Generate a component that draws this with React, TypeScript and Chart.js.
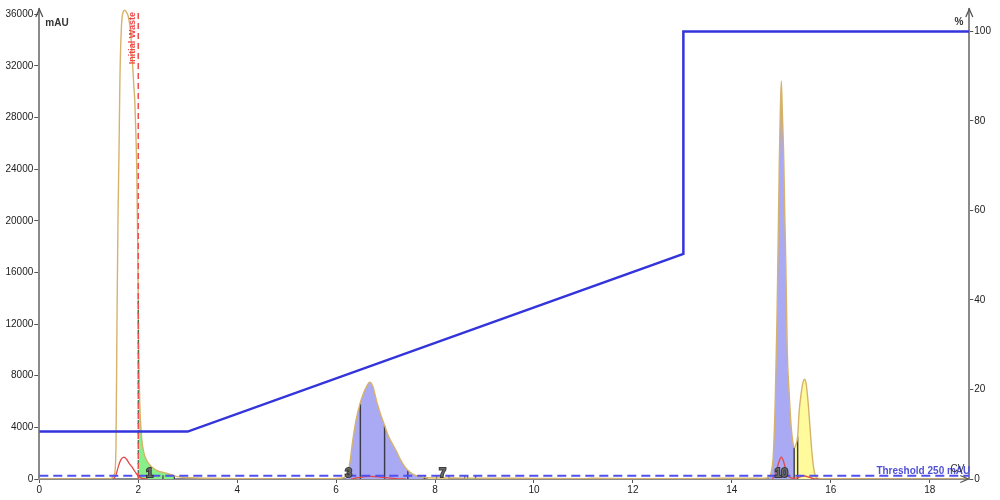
import React, { useEffect, useRef } from 'react';
import { Chart, registerables } from 'chart.js';

Chart.register(...registerables);

// ---- data ----
const traceCV = [
  0, 1.4, 1.46, 1.52, 1.55, 1.57, 1.59, 1.61, 1.63, 1.66, 1.7, 1.73, 1.77, 1.8, 1.85, 1.88, 1.91, 1.93, 1.95, 1.97,
  1.99, 2.01, 2.03, 2.06, 2.09, 2.13, 2.17, 2.23, 2.3, 2.4, 2.57, 2.75, 2.9, 3.2, 3.7, 4.0, 5.0, 5.9, 6.1, 6.2,
  6.25, 6.28, 6.33, 6.4, 6.48, 6.55, 6.62, 6.68, 6.74, 6.82, 6.9, 6.98, 7.06, 7.14, 7.22, 7.3, 7.38, 7.45, 7.55, 7.65,
  7.75, 7.85, 8.0, 8.3, 8.6, 8.8, 9.0, 10.0, 11.0, 11.2, 12.0, 13.0, 13.8, 14.4, 14.6, 14.75, 14.8, 14.84, 14.88, 14.91,
  14.93, 14.96, 14.98, 15.0, 15.02, 15.05, 15.07, 15.09, 15.12, 15.16, 15.2, 15.24, 15.26, 15.29, 15.33, 15.36, 15.4, 15.44, 15.47, 15.5,
  15.54, 15.58, 15.62, 15.66, 15.7, 15.75, 16.0, 18.8,
];
const traceMAU = [
  0, 10, 60, 400, 2500, 12000, 20000, 25000, 31000, 35000, 36200, 36300, 36100, 35800, 34500, 32500, 30500, 29300, 27000, 24000,
  18000, 10000, 6000, 3600, 2500, 1800, 1450, 1100, 850, 620, 450, 220, 130, 80, 50, 20, 10, 20, 60, 250,
  700, 1300, 2800, 4500, 5800, 6600, 7200, 7500, 7200, 6000, 5000, 4150, 3300, 2700, 2150, 1500, 1000, 680, 380, 230,
  150, 100, 90, 80, 70, 65, 60, 50, 30, 60, 20, 20, 60, 60, 50, 150, 600, 2000, 6600, 12000,
  16900, 24700, 28500, 30800, 28500, 24700, 20500, 16900, 10000, 6600, 4000, 2700, 2430, 2600, 3300, 5200, 6600, 7500, 7730, 7400,
  6000, 4000, 2000, 700, 150, 50, 20, 10,
];

const redCV = [
  1.5, 1.55, 1.6, 1.65, 1.71, 1.76, 1.82, 1.87, 1.93, 2.0, 2.08, 2.2, 2.21,
  6.3, 6.45, 6.6, 6.7, 6.85, 7.0, 7.2, 7.4, 7.41,
  14.82, 14.88, 14.95, 15.0, 15.05, 15.1, 15.16, 15.25, 15.35, 15.45, 15.55, 15.65, 15.75,
];
const redMAU = [
  0, 300, 1000, 1500, 1700, 1550, 1200, 950, 600, 230, 40, 0, null,
  0, 100, 180, 200, 170, 100, 30, 0, null,
  0, 400, 1300, 1700, 1300, 600, 150, 50, 120, 250, 150, 30, 0,
];

const gradientCV = [0, 3.0, 13.02, 13.02, 18.8];
const gradientPct = [10.6, 10.6, 50.3, 100, 100];

const thresholdMAU = 250;
const wasteCV = 2.0;
const wasteLabel = 'Initial Waste';
const fracMarkCV = 2.0;
const fracMarkMAU = 13800;

const fracStartCV = [2.01, 6.2, 7.85, 8.6, 14.75, 15.26];
const fracEndCV = [2.75, 7.75, 8.3, 8.8, 15.26, 15.75];
const fracKind = ['green', 'blue', 'yellow', 'green', 'blue', 'yellow'];

const dividerCV = [6.49, 6.98, 7.45, 15.26, 15.33];
const dividerMAU = [5800, 4150, 680, 2430, 3300];

const tickMarkCV = [2.5, 2.73, 7.79, 8.03, 8.28, 8.6, 8.66, 8.82];
const tickMarkMAU = 300;

const fracLabelCV = [2.23, 6.25, 8.15, 15.0];
const fracLabelText = ['1', '3', '7', '10'];

const xTickValues = [0, 2, 4, 6, 8, 10, 12, 14, 16, 18];
const yTickValues = [0, 4000, 8000, 12000, 16000, 20000, 24000, 28000, 32000, 36000];
const pctTickValues = [0, 20, 40, 60, 80, 100];

// ---- styles ----
const FONT = "'Liberation Sans', Arial, sans-serif";
const fracColors: Record<string, string> = {
  green: '#88f088',
  blue: '#a9a9f4',
  yellow: '#fffa9c',
};

export default function App() {
  const ref = useRef<HTMLCanvasElement>(null);

  useEffect(() => {
    if (!ref.current) return;
    const zip = (xs: number[], ys: (number | null)[]) => xs.map((x, i) => ({ x, y: ys[i] }));
    const trace = zip(traceCV, traceMAU);
    const straight = { tension: 0, cubicInterpolationMode: 'default' };

    const datasets: any[] = [];
    // gradient (top)
    datasets.push({
      data: zip(gradientCV, gradientPct),
      yAxisID: 'y2',
      borderColor: '#3434dc',
      borderWidth: 2.5,
      pointRadius: 0,
      fill: false,
      order: 0,
      ...straight,
    });
    // initial waste
    datasets.push({
      data: [{ x: wasteCV, y: 0 }, { x: wasteCV, y: 36400 }],
      yAxisID: 'y',
      borderColor: '#f05050',
      borderWidth: 1.5,
      borderDash: [6, 4],
      pointRadius: 0,
      fill: false,
      order: 1,
      ...straight,
    });
    datasets.push({
      data: [{ x: fracMarkCV, y: 0 }, { x: fracMarkCV, y: fracMarkMAU }],
      yAxisID: 'y',
      borderColor: '#3b5e3b',
      borderWidth: 1.2,
      borderDash: [4, 6],
      borderDashOffset: 5,
      pointRadius: 0,
      fill: false,
      order: 1,
      ...straight,
    });
    // threshold
    datasets.push({
      data: [{ x: 0, y: thresholdMAU }, { x: 18.8, y: thresholdMAU }],
      yAxisID: 'y',
      borderColor: '#5050f0',
      borderWidth: 2,
      borderDash: [9, 5],
      pointRadius: 0,
      fill: false,
      order: 2,
      ...straight,
    });
    // red trace
    datasets.push({
      data: zip(redCV, redMAU),
      yAxisID: 'y',
      borderColor: '#e44848',
      borderWidth: 1.3,
      pointRadius: 0,
      fill: false,
      spanGaps: false,
      order: 3,
    });
    // main trace
    datasets.push({
      data: trace,
      yAxisID: 'y',
      borderColor: '#d6b36c',
      borderWidth: 1.4,
      pointRadius: 0,
      fill: false,
      order: 4,
    });
    // dividers
    dividerCV.forEach((cv, i) => {
      datasets.push({
        data: [{ x: cv, y: 0 }, { x: cv, y: dividerMAU[i] }],
        yAxisID: 'y',
        borderColor: '#3a3a4a',
        borderWidth: 1.4,
        pointRadius: 0,
        fill: false,
        order: 5,
        ...straight,
      });
    });
    tickMarkCV.forEach((cv) => {
      datasets.push({
        data: [{ x: cv, y: 0 }, { x: cv, y: tickMarkMAU }],
        yAxisID: 'y',
        borderColor: '#3a3a4a',
        borderWidth: 1.2,
        pointRadius: 0,
        fill: false,
        order: 5,
        ...straight,
      });
    });
    // fraction fills
    fracStartCV.forEach((s, i) => {
      const e = fracEndCV[i];
      datasets.push({
        data: trace.filter((p) => p.x >= s - 1e-9 && p.x <= e + 1e-9),
        yAxisID: 'y',
        borderWidth: 0,
        borderColor: 'rgba(0,0,0,0)',
        backgroundColor: fracColors[fracKind[i]],
        pointRadius: 0,
        fill: 'origin',
        order: 10,
      });
    });

    const decor = {
      id: 'decor',
      afterDraw(chart: any) {
        const { ctx, chartArea, scales } = chart;
        const { left, right, top, bottom } = chartArea;
        ctx.save();
        // arrows
        ctx.strokeStyle = '#555';
        ctx.lineWidth = 1.3;
        const arrowUp = (x: number) => {
          ctx.beginPath();
          ctx.moveTo(x - 3.5, top + 8);
          ctx.lineTo(x, top);
          ctx.lineTo(x + 3.5, top + 8);
          ctx.stroke();
        };
        arrowUp(left);
        arrowUp(right);
        ctx.beginPath();
        ctx.moveTo(right - 9, bottom - 3.5);
        ctx.lineTo(right - 1, bottom);
        ctx.lineTo(right - 9, bottom + 3.5);
        ctx.stroke();

        // axis titles
        ctx.fillStyle = '#333';
        ctx.font = `bold 10px ${FONT}`;
        ctx.textBaseline = 'alphabetic';
        ctx.textAlign = 'left';
        ctx.fillText('mAU', left + 6, 26);
        ctx.textAlign = 'right';
        ctx.fillText('%', right - 6, 25);

        // threshold label
        const ty = scales.y.getPixelForValue(thresholdMAU);
        ctx.fillStyle = '#5151d6';
        ctx.font = `bold 10px ${FONT}`;
        ctx.textAlign = 'right';
        ctx.fillText('Threshold 250 mAU', right + 1, ty - 2);
        ctx.fillStyle = '#333';
        ctx.font = `10px ${FONT}`;
        ctx.fillText('CV', right - 5, bottom - 7);

        // initial waste label
        const wx = scales.x.getPixelForValue(wasteCV);
        ctx.save();
        ctx.translate(wx - 3, top + 3);
        ctx.rotate(-Math.PI / 2);
        ctx.fillStyle = '#ee4a4a';
        ctx.font = `bold 9px ${FONT}`;
        ctx.textAlign = 'right';
        ctx.textBaseline = 'alphabetic';
        ctx.fillText(wasteLabel, 0, 0);
        ctx.restore();

        // fraction labels
        ctx.font = `bold 12px ${FONT}`;
        ctx.textAlign = 'center';
        ctx.textBaseline = 'alphabetic';
        fracLabelCV.forEach((cv, i) => {
          const x = scales.x.getPixelForValue(cv);
          ctx.lineWidth = 2;
          ctx.strokeStyle = 'rgba(50,50,50,0.95)';
          ctx.strokeText(fracLabelText[i], x, bottom - 2);
          ctx.fillStyle = '#6a6a6a';
          ctx.fillText(fracLabelText[i], x, bottom - 2);
        });
        ctx.restore();
      },
    };

    const setTicks = (vals: number[]) => (scale: any) => {
      scale.ticks = vals.map((v) => ({ value: v }));
    };

    const tickOpts = {
      color: '#222',
      font: { family: FONT, size: 10 },
      padding: 1,
      autoSkip: false,
      maxRotation: 0,
      callback: (v: any) => String(v),
    };

    const chart = new Chart(ref.current, {
      type: 'line',
      data: { datasets },
      plugins: [decor],
      options: {
        animation: false,
        responsive: false,
        events: [],
        layout: { padding: { top: 9, left: 0, right: 0, bottom: 0 } },
        plugins: { legend: { display: false }, tooltip: { enabled: false } },
        elements: { line: { tension: 0.25, cubicInterpolationMode: 'monotone' } },
        scales: {
          x: {
            type: 'linear',
            position: 'bottom',
            min: 0,
            max: 18.8,
            afterBuildTicks: setTicks(xTickValues),
            afterFit: (s: any) => { s.height = 21; },
            ticks: { ...tickOpts },
            grid: { drawOnChartArea: false, drawTicks: true, tickLength: 4, color: '#555' },
            border: { display: true, color: '#8a8a8a', width: 2 },
          },
          y: {
            type: 'linear',
            position: 'left',
            min: 0,
            max: 36400,
            afterBuildTicks: setTicks(yTickValues),
            afterFit: (s: any) => { s.width = 39.3; },
            ticks: { ...tickOpts },
            grid: { drawOnChartArea: false, drawTicks: true, tickLength: 5, color: '#555' },
            border: { display: true, color: '#8a8a8a', width: 2 },
          },
          y2: {
            type: 'linear',
            position: 'right',
            min: 0,
            max: 105,
            afterBuildTicks: setTicks(pctTickValues),
            afterFit: (s: any) => { s.width = 30.7; },
            ticks: { ...tickOpts },
            grid: { drawOnChartArea: false, drawTicks: true, tickLength: 4, color: '#555' },
            border: { display: true, color: '#8a8a8a', width: 2 },
          },
        },
      } as any,
    });
    return () => chart.destroy();
  }, []);

  return (
    <div style={{ position: 'fixed', left: 0, top: 0, width: 1000, height: 500, background: '#fff' }}>
      <canvas ref={ref} width={1000} height={500} style={{ display: 'block', width: 1000, height: 500 }} />
    </div>
  );
}
